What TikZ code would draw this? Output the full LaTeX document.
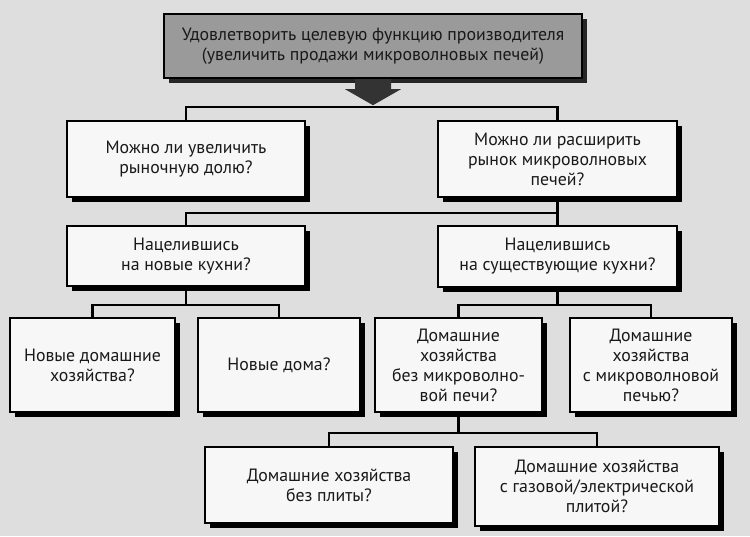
\documentclass[tikz,border=0pt]{standalone}
\usepackage{fontspec}
\setmainfont{PT Sans}
\usetikzlibrary{shadows}
\definecolor{bg}{HTML}{DEDEDE}
\definecolor{boxfill}{HTML}{F7F7F7}
\definecolor{topfill}{HTML}{9A9A9A}
\definecolor{arrowfill}{HTML}{333333}
\begin{document}
\begin{tikzpicture}[x=1pt,y=-1pt,
  qbox/.style={draw=black, line width=2.4pt, fill=boxfill, align=center,
    inner sep=2pt, text=black!90, font=\fontsize{17.8}{20}\selectfont,
    drop shadow={shadow xshift=4.5pt, shadow yshift=-4.5pt, fill=black, opacity=1}},
  topbox/.style={qbox, fill=topfill,
    drop shadow={shadow xshift=5pt, shadow yshift=-5pt, fill=black!85, opacity=1}},
  link/.style={line width=2.8pt, line cap=rect}]
\fill[bg] (0,0) rectangle (750,536);
\useasboundingbox (0,0) rectangle (750,536);

\node[topbox, minimum width=418pt, minimum height=64pt] (top) at (373,46)
  {Удовлетворить целевую функцию производителя\\(увеличить продажи микроволновых печей)};

\node[qbox, minimum width=238pt, minimum height=76pt] (L1) at (186,159)
  {Можно ли увеличить\\рыночную долю?};
\node[qbox, minimum width=239pt, minimum height=76pt] (R1) at (557.5,159)
  {Можно ли расширить\\рынок микроволновых\\печей?};

\node[qbox, minimum width=238pt, minimum height=60pt] (L2) at (186,256)
  {Нацелившись\\на новые кухни?};
\node[qbox, minimum width=239pt, minimum height=61pt] (R2) at (557.5,256.5)
  {Нацелившись\\на существующие кухни?};

\node[qbox, minimum width=165pt, minimum height=94pt] (L3a) at (92.5,365)
  {Новые домашние\\хозяйства?};
\node[qbox, minimum width=162pt, minimum height=94pt] (L3b) at (279,365)
  {Новые дома?};
\node[qbox, minimum width=167pt, minimum height=94pt] (R3a) at (458.5,365)
  {Домашние\\хозяйства\\без микроволно-\\вой печи?};
\node[qbox, minimum width=162pt, minimum height=94pt] (R3b) at (651,365)
  {Домашние\\хозяйства\\с микроволновой\\печью?};

\node[qbox, minimum width=248pt, minimum height=76pt] (L4) at (329,485)
  {Домашние хозяйства\\без плиты?};
\node[qbox, minimum width=244pt, minimum height=79pt] (R4) at (597,486.5)
  {Домашние хозяйства\\с газовой/электрической\\плитой?};

% bar levels
\coordinate (b1) at (0,107);
\coordinate (b2) at (0,213);
\coordinate (b3) at (0,305);
\coordinate (b4) at (0,433);

% block arrow below the top box
\fill[arrowfill] ([xshift=-18pt]top.south) -- ([xshift=-18pt,yshift=-10pt]top.south)
  -- ([xshift=-28pt,yshift=-10pt]top.south) -- ([yshift=-26pt]top.south)
  -- ([xshift=28pt,yshift=-10pt]top.south) -- ([xshift=18pt,yshift=-10pt]top.south)
  -- ([xshift=18pt]top.south) -- cycle;

\draw[link] (L1.north) -- (L1.north |- b1) -- (R1.north |- b1) -- (R1.north);

\draw[link] (R1.south) -- (R2.north);
\draw[link] (R1.south |- b2) -- (L2.north |- b2) -- (L2.north);

\draw[link] (L2.south) -- (L2.south |- b3);
\draw[link] (L3a.north) -- (L3a.north |- b3) -- (L3b.north |- b3) -- (L3b.north);

\draw[link] (R2.south) -- (R2.south |- b3);
\draw[link] (R3a.north) -- (R3a.north |- b3) -- (R3b.north |- b3) -- (R3b.north);

\draw[link] (R3a.south) -- (R3a.south |- b4);
\draw[link] (L4.north) -- (L4.north |- b4) -- (R4.north |- b4) -- (R4.north);
\end{tikzpicture}
\end{document}
